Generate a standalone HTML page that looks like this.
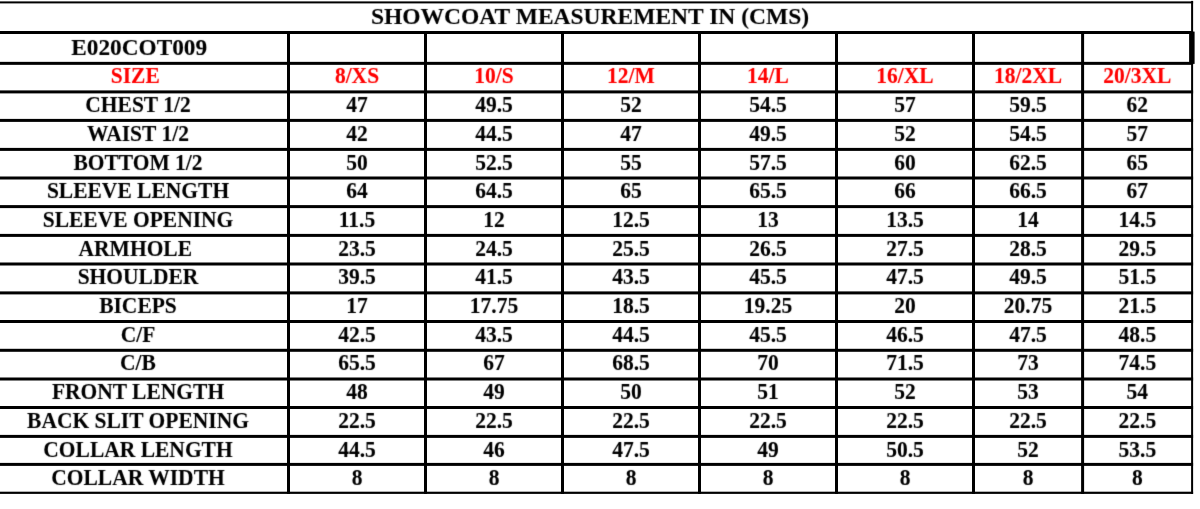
<!DOCTYPE html>
<html><head><meta charset="utf-8"><title>Showcoat Measurement</title><style>
*{margin:0;padding:0;box-sizing:border-box}
html,body{width:1200px;height:509px;background:#fff;overflow:hidden}
#w{position:absolute;left:0;top:0;width:1200px;height:509px;filter:url(#bl)}
body{position:relative;font-family:"Liberation Serif","Times New Roman",serif;font-weight:bold;color:#000}
.g{position:absolute;left:0;top:0}
.t{position:absolute;width:300px;height:0;text-align:center;white-space:nowrap;line-height:0;transform:scaleY(1.03);-webkit-text-stroke:0.1px}
.r{color:#f00}
.big{transform:scaleY(1)}
</style></head>
<body>
<svg width="0" height="0" style="position:absolute"><filter id="bl" x="0" y="0" width="1" height="1"><feConvolveMatrix order="3" kernelMatrix="1 8 1 8 60 8 1 8 1" divisor="96" edgeMode="none" preserveAlpha="false"/></filter></svg>
<svg class="g" width="1200" height="509" viewBox="0 0 1200 509"><rect x="0" y="1.4" width="1193.1" height="2"/><rect x="0" y="31" width="1193.1" height="3"/><rect x="0" y="61.85" width="1193.1" height="3"/><rect x="0" y="90.4" width="1193.1" height="3"/><rect x="0" y="118.9" width="1193.1" height="3"/><rect x="0" y="147.9" width="1193.1" height="3"/><rect x="0" y="176.5" width="1193.1" height="3"/><rect x="0" y="205.1" width="1193.1" height="3"/><rect x="0" y="233.9" width="1193.1" height="3"/><rect x="0" y="262.5" width="1193.1" height="3"/><rect x="0" y="291.4" width="1193.1" height="3"/><rect x="0" y="320" width="1193.1" height="3"/><rect x="0" y="348.8" width="1193.1" height="3"/><rect x="0" y="377.5" width="1193.1" height="3"/><rect x="0" y="406" width="1193.1" height="3"/><rect x="0" y="434.9" width="1193.1" height="3"/><rect x="0" y="462.9" width="1193.1" height="3"/><rect x="0" y="491.7" width="1193.1" height="2.2"/><rect x="287" y="31" width="3" height="462.9"/><rect x="424" y="31" width="3" height="462.9"/><rect x="561" y="31" width="3" height="462.9"/><rect x="698" y="31" width="3" height="462.9"/><rect x="835" y="31" width="3" height="462.9"/><rect x="972" y="31" width="3" height="462.9"/><rect x="1081.1" y="31" width="3" height="462.9"/><rect x="1191.1" y="0.9" width="2" height="493"/><rect x="1189.1" y="31.6" width="5.5" height="32.3"/></svg>
<div id="w">
<div class="t" style="left:0;width:1192px;top:16.37px;font-size:23.5px;text-align:center;transform-origin:50% 7.93px;transform:translateX(-6px) scaleY(1)">SHOWCOAT MEASUREMENT IN (CMS)</div>
<div class="t big" style="left:-10.8px;top:46.74px;font-size:23.3px;transform-origin:50% 7.86px">E020COT009</div>
<div class="t r" style="left:-14.7px;top:76.19px;font-size:21.5px;transform-origin:50% 7.26px">SIZE</div>
<div class="t r" style="left:207px;top:76.19px;font-size:21.5px;transform-origin:50% 7.26px">8/XS</div>
<div class="t r" style="left:344px;top:76.19px;font-size:21.5px;transform-origin:50% 7.26px">10/S</div>
<div class="t r" style="left:481px;top:76.19px;font-size:21.5px;transform-origin:50% 7.26px">12/M</div>
<div class="t r" style="left:618px;top:76.19px;font-size:21.5px;transform-origin:50% 7.26px">14/L</div>
<div class="t r" style="left:755px;top:76.19px;font-size:21.5px;transform-origin:50% 7.26px">16/XL</div>
<div class="t r" style="left:878.05px;top:76.19px;font-size:21.5px;transform-origin:50% 7.26px">18/2XL</div>
<div class="t r" style="left:987.35px;top:76.19px;font-size:21.5px;transform-origin:50% 7.26px">20/3XL</div>
<div class="t " style="left:-12px;top:105.04px;font-size:21.5px;transform-origin:50% 7.26px">CHEST 1/2</div>
<div class="t " style="left:207px;top:105.04px;font-size:21.5px;transform-origin:50% 7.26px">47</div>
<div class="t " style="left:344px;top:105.04px;font-size:21.5px;transform-origin:50% 7.26px">49.5</div>
<div class="t " style="left:481px;top:105.04px;font-size:21.5px;transform-origin:50% 7.26px">52</div>
<div class="t " style="left:618px;top:105.04px;font-size:21.5px;transform-origin:50% 7.26px">54.5</div>
<div class="t " style="left:755px;top:105.04px;font-size:21.5px;transform-origin:50% 7.26px">57</div>
<div class="t " style="left:878.05px;top:105.04px;font-size:21.5px;transform-origin:50% 7.26px">59.5</div>
<div class="t " style="left:987.35px;top:105.04px;font-size:21.5px;transform-origin:50% 7.26px">62</div>
<div class="t " style="left:-12px;top:133.54px;font-size:21.5px;transform-origin:50% 7.26px">WAIST 1/2</div>
<div class="t " style="left:207px;top:133.54px;font-size:21.5px;transform-origin:50% 7.26px">42</div>
<div class="t " style="left:344px;top:133.54px;font-size:21.5px;transform-origin:50% 7.26px">44.5</div>
<div class="t " style="left:481px;top:133.54px;font-size:21.5px;transform-origin:50% 7.26px">47</div>
<div class="t " style="left:618px;top:133.54px;font-size:21.5px;transform-origin:50% 7.26px">49.5</div>
<div class="t " style="left:755px;top:133.54px;font-size:21.5px;transform-origin:50% 7.26px">52</div>
<div class="t " style="left:878.05px;top:133.54px;font-size:21.5px;transform-origin:50% 7.26px">54.5</div>
<div class="t " style="left:987.35px;top:133.54px;font-size:21.5px;transform-origin:50% 7.26px">57</div>
<div class="t " style="left:-12px;top:162.54px;font-size:21.5px;transform-origin:50% 7.26px">BOTTOM 1/2</div>
<div class="t " style="left:207px;top:162.54px;font-size:21.5px;transform-origin:50% 7.26px">50</div>
<div class="t " style="left:344px;top:162.54px;font-size:21.5px;transform-origin:50% 7.26px">52.5</div>
<div class="t " style="left:481px;top:162.54px;font-size:21.5px;transform-origin:50% 7.26px">55</div>
<div class="t " style="left:618px;top:162.54px;font-size:21.5px;transform-origin:50% 7.26px">57.5</div>
<div class="t " style="left:755px;top:162.54px;font-size:21.5px;transform-origin:50% 7.26px">60</div>
<div class="t " style="left:878.05px;top:162.54px;font-size:21.5px;transform-origin:50% 7.26px">62.5</div>
<div class="t " style="left:987.35px;top:162.54px;font-size:21.5px;transform-origin:50% 7.26px">65</div>
<div class="t " style="left:-12px;top:191.14px;font-size:21.5px;transform-origin:50% 7.26px">SLEEVE LENGTH</div>
<div class="t " style="left:207px;top:191.14px;font-size:21.5px;transform-origin:50% 7.26px">64</div>
<div class="t " style="left:344px;top:191.14px;font-size:21.5px;transform-origin:50% 7.26px">64.5</div>
<div class="t " style="left:481px;top:191.14px;font-size:21.5px;transform-origin:50% 7.26px">65</div>
<div class="t " style="left:618px;top:191.14px;font-size:21.5px;transform-origin:50% 7.26px">65.5</div>
<div class="t " style="left:755px;top:191.14px;font-size:21.5px;transform-origin:50% 7.26px">66</div>
<div class="t " style="left:878.05px;top:191.14px;font-size:21.5px;transform-origin:50% 7.26px">66.5</div>
<div class="t " style="left:987.35px;top:191.14px;font-size:21.5px;transform-origin:50% 7.26px">67</div>
<div class="t " style="left:-12px;top:219.74px;font-size:21.5px;transform-origin:50% 7.26px">SLEEVE OPENING</div>
<div class="t " style="left:207px;top:219.74px;font-size:21.5px;transform-origin:50% 7.26px">11.5</div>
<div class="t " style="left:344px;top:219.74px;font-size:21.5px;transform-origin:50% 7.26px">12</div>
<div class="t " style="left:481px;top:219.74px;font-size:21.5px;transform-origin:50% 7.26px">12.5</div>
<div class="t " style="left:618px;top:219.74px;font-size:21.5px;transform-origin:50% 7.26px">13</div>
<div class="t " style="left:755px;top:219.74px;font-size:21.5px;transform-origin:50% 7.26px">13.5</div>
<div class="t " style="left:878.05px;top:219.74px;font-size:21.5px;transform-origin:50% 7.26px">14</div>
<div class="t " style="left:987.35px;top:219.74px;font-size:21.5px;transform-origin:50% 7.26px">14.5</div>
<div class="t " style="left:-14.7px;top:248.54px;font-size:21.5px;transform-origin:50% 7.26px">ARMHOLE</div>
<div class="t " style="left:207px;top:248.54px;font-size:21.5px;transform-origin:50% 7.26px">23.5</div>
<div class="t " style="left:344px;top:248.54px;font-size:21.5px;transform-origin:50% 7.26px">24.5</div>
<div class="t " style="left:481px;top:248.54px;font-size:21.5px;transform-origin:50% 7.26px">25.5</div>
<div class="t " style="left:618px;top:248.54px;font-size:21.5px;transform-origin:50% 7.26px">26.5</div>
<div class="t " style="left:755px;top:248.54px;font-size:21.5px;transform-origin:50% 7.26px">27.5</div>
<div class="t " style="left:878.05px;top:248.54px;font-size:21.5px;transform-origin:50% 7.26px">28.5</div>
<div class="t " style="left:987.35px;top:248.54px;font-size:21.5px;transform-origin:50% 7.26px">29.5</div>
<div class="t " style="left:-12px;top:277.14px;font-size:21.5px;transform-origin:50% 7.26px">SHOULDER</div>
<div class="t " style="left:207px;top:277.14px;font-size:21.5px;transform-origin:50% 7.26px">39.5</div>
<div class="t " style="left:344px;top:277.14px;font-size:21.5px;transform-origin:50% 7.26px">41.5</div>
<div class="t " style="left:481px;top:277.14px;font-size:21.5px;transform-origin:50% 7.26px">43.5</div>
<div class="t " style="left:618px;top:277.14px;font-size:21.5px;transform-origin:50% 7.26px">45.5</div>
<div class="t " style="left:755px;top:277.14px;font-size:21.5px;transform-origin:50% 7.26px">47.5</div>
<div class="t " style="left:878.05px;top:277.14px;font-size:21.5px;transform-origin:50% 7.26px">49.5</div>
<div class="t " style="left:987.35px;top:277.14px;font-size:21.5px;transform-origin:50% 7.26px">51.5</div>
<div class="t " style="left:-12px;top:306.04px;font-size:21.5px;transform-origin:50% 7.26px">BICEPS</div>
<div class="t " style="left:207px;top:306.04px;font-size:21.5px;transform-origin:50% 7.26px">17</div>
<div class="t " style="left:344px;top:306.04px;font-size:21.5px;transform-origin:50% 7.26px">17.75</div>
<div class="t " style="left:481px;top:306.04px;font-size:21.5px;transform-origin:50% 7.26px">18.5</div>
<div class="t " style="left:618px;top:306.04px;font-size:21.5px;transform-origin:50% 7.26px">19.25</div>
<div class="t " style="left:755px;top:306.04px;font-size:21.5px;transform-origin:50% 7.26px">20</div>
<div class="t " style="left:878.05px;top:306.04px;font-size:21.5px;transform-origin:50% 7.26px">20.75</div>
<div class="t " style="left:987.35px;top:306.04px;font-size:21.5px;transform-origin:50% 7.26px">21.5</div>
<div class="t " style="left:-12px;top:334.64px;font-size:21.5px;transform-origin:50% 7.26px">C/F</div>
<div class="t " style="left:207px;top:334.64px;font-size:21.5px;transform-origin:50% 7.26px">42.5</div>
<div class="t " style="left:344px;top:334.64px;font-size:21.5px;transform-origin:50% 7.26px">43.5</div>
<div class="t " style="left:481px;top:334.64px;font-size:21.5px;transform-origin:50% 7.26px">44.5</div>
<div class="t " style="left:618px;top:334.64px;font-size:21.5px;transform-origin:50% 7.26px">45.5</div>
<div class="t " style="left:755px;top:334.64px;font-size:21.5px;transform-origin:50% 7.26px">46.5</div>
<div class="t " style="left:878.05px;top:334.64px;font-size:21.5px;transform-origin:50% 7.26px">47.5</div>
<div class="t " style="left:987.35px;top:334.64px;font-size:21.5px;transform-origin:50% 7.26px">48.5</div>
<div class="t " style="left:-12px;top:363.44px;font-size:21.5px;transform-origin:50% 7.26px">C/B</div>
<div class="t " style="left:207px;top:363.44px;font-size:21.5px;transform-origin:50% 7.26px">65.5</div>
<div class="t " style="left:344px;top:363.44px;font-size:21.5px;transform-origin:50% 7.26px">67</div>
<div class="t " style="left:481px;top:363.44px;font-size:21.5px;transform-origin:50% 7.26px">68.5</div>
<div class="t " style="left:618px;top:363.44px;font-size:21.5px;transform-origin:50% 7.26px">70</div>
<div class="t " style="left:755px;top:363.44px;font-size:21.5px;transform-origin:50% 7.26px">71.5</div>
<div class="t " style="left:878.05px;top:363.44px;font-size:21.5px;transform-origin:50% 7.26px">73</div>
<div class="t " style="left:987.35px;top:363.44px;font-size:21.5px;transform-origin:50% 7.26px">74.5</div>
<div class="t " style="left:-12px;top:392.14px;font-size:21.5px;transform-origin:50% 7.26px">FRONT LENGTH</div>
<div class="t " style="left:207px;top:392.14px;font-size:21.5px;transform-origin:50% 7.26px">48</div>
<div class="t " style="left:344px;top:392.14px;font-size:21.5px;transform-origin:50% 7.26px">49</div>
<div class="t " style="left:481px;top:392.14px;font-size:21.5px;transform-origin:50% 7.26px">50</div>
<div class="t " style="left:618px;top:392.14px;font-size:21.5px;transform-origin:50% 7.26px">51</div>
<div class="t " style="left:755px;top:392.14px;font-size:21.5px;transform-origin:50% 7.26px">52</div>
<div class="t " style="left:878.05px;top:392.14px;font-size:21.5px;transform-origin:50% 7.26px">53</div>
<div class="t " style="left:987.35px;top:392.14px;font-size:21.5px;transform-origin:50% 7.26px">54</div>
<div class="t " style="left:-12px;top:420.64px;font-size:21.5px;transform-origin:50% 7.26px">BACK SLIT OPENING</div>
<div class="t " style="left:207px;top:420.64px;font-size:21.5px;transform-origin:50% 7.26px">22.5</div>
<div class="t " style="left:344px;top:420.64px;font-size:21.5px;transform-origin:50% 7.26px">22.5</div>
<div class="t " style="left:481px;top:420.64px;font-size:21.5px;transform-origin:50% 7.26px">22.5</div>
<div class="t " style="left:618px;top:420.64px;font-size:21.5px;transform-origin:50% 7.26px">22.5</div>
<div class="t " style="left:755px;top:420.64px;font-size:21.5px;transform-origin:50% 7.26px">22.5</div>
<div class="t " style="left:878.05px;top:420.64px;font-size:21.5px;transform-origin:50% 7.26px">22.5</div>
<div class="t " style="left:987.35px;top:420.64px;font-size:21.5px;transform-origin:50% 7.26px">22.5</div>
<div class="t " style="left:-12px;top:449.54px;font-size:21.5px;transform-origin:50% 7.26px">COLLAR LENGTH</div>
<div class="t " style="left:207px;top:449.54px;font-size:21.5px;transform-origin:50% 7.26px">44.5</div>
<div class="t " style="left:344px;top:449.54px;font-size:21.5px;transform-origin:50% 7.26px">46</div>
<div class="t " style="left:481px;top:449.54px;font-size:21.5px;transform-origin:50% 7.26px">47.5</div>
<div class="t " style="left:618px;top:449.54px;font-size:21.5px;transform-origin:50% 7.26px">49</div>
<div class="t " style="left:755px;top:449.54px;font-size:21.5px;transform-origin:50% 7.26px">50.5</div>
<div class="t " style="left:878.05px;top:449.54px;font-size:21.5px;transform-origin:50% 7.26px">52</div>
<div class="t " style="left:987.35px;top:449.54px;font-size:21.5px;transform-origin:50% 7.26px">53.5</div>
<div class="t " style="left:-12px;top:477.54px;font-size:21.5px;transform-origin:50% 7.26px">COLLAR WIDTH</div>
<div class="t " style="left:207px;top:477.54px;font-size:21.5px;transform-origin:50% 7.26px">8</div>
<div class="t " style="left:344px;top:477.54px;font-size:21.5px;transform-origin:50% 7.26px">8</div>
<div class="t " style="left:481px;top:477.54px;font-size:21.5px;transform-origin:50% 7.26px">8</div>
<div class="t " style="left:618px;top:477.54px;font-size:21.5px;transform-origin:50% 7.26px">8</div>
<div class="t " style="left:755px;top:477.54px;font-size:21.5px;transform-origin:50% 7.26px">8</div>
<div class="t " style="left:878.05px;top:477.54px;font-size:21.5px;transform-origin:50% 7.26px">8</div>
<div class="t " style="left:987.35px;top:477.54px;font-size:21.5px;transform-origin:50% 7.26px">8</div>
</div></body></html>
